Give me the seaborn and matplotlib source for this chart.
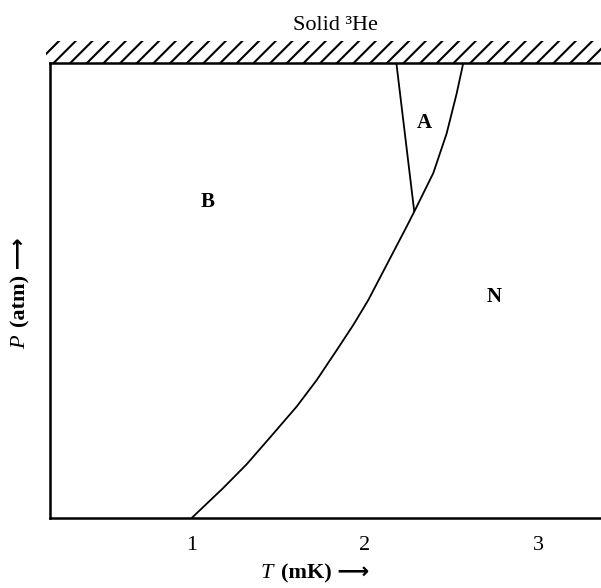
import matplotlib
matplotlib.use("Agg")
import matplotlib.pyplot as plt
import seaborn as sns
import pandas as pd
from matplotlib.patches import Rectangle

# ---- data ----
# normal / superfluid boundary (T in mK, P in relative units, top = solid line)
tc_T = [1.0, 1.182, 1.317, 1.452, 1.606, 1.721, 1.837, 1.932, 2.019,
        2.241, 2.289, 2.394, 2.471, 2.529, 2.567]
tc_P = [0.0, 0.066, 0.118, 0.177, 0.245, 0.303, 0.369, 0.424, 0.479,
        0.641, 0.677, 0.758, 0.845, 0.933, 1.0]
# A-B boundary
ab_T = [2.181, 2.284]
ab_P = [1.0, 0.674]
# phase labels
phase_names = ["B", "A", "N"]
phase_T = [1.094, 2.340, 2.744]
phase_P = [0.695, 0.869, 0.486]
xtick_vals = [1, 2, 3]
xtick_labels = ["1", "2", "3"]

sns.set_theme(style="white")
fam = ["Liberation Serif", "DejaVu Sans"]
plt.rcParams["font.family"] = fam
plt.rcParams["hatch.linewidth"] = 1.5
plt.rcParams["text.color"] = "black"
plt.rcParams["axes.labelcolor"] = "black"
plt.rcParams["xtick.color"] = "black"

fig = plt.figure(figsize=(6.01, 5.88), dpi=100)
ax = fig.add_axes([50 / 601, 1 - 518 / 588, 550 / 601, 455 / 588])

tc = pd.DataFrame({"T": tc_T, "P": tc_P})
ab = pd.DataFrame({"T": ab_T, "P": ab_P})
sns.lineplot(data=tc, x="T", y="P", sort=False, estimator=None, color="black", lw=1.3, ax=ax)
sns.lineplot(data=ab, x="T", y="P", sort=False, estimator=None, color="black", lw=1.3, ax=ax)

for name, t, p in zip(phase_names, phase_T, phase_P):
    ax.text(t, p, name, ha="center", va="center", fontsize=15, fontweight="bold",
            color="black")

ax.set_xlim(0.1824, 3.356)
ax.set_ylim(0, 1)
ax.set_xticks(xtick_vals)
ax.set_xticklabels(xtick_labels, fontsize=16)
ax.set_yticks([])
ax.tick_params(axis="x", direction="out", length=5, width=1.5, colors="black", pad=8)

for s in ["left", "bottom", "top"]:
    ax.spines[s].set_visible(True)
    ax.spines[s].set_color("black")
    ax.spines[s].set_linewidth(1.8)
ax.spines["right"].set_visible(False)

# hatched solid region above the top line
ax.add_patch(Rectangle((-0.007, 1.0), 1.01, 22 / 455, transform=ax.transAxes,
                       facecolor="none", edgecolor="black", linewidth=0,
                       hatch="//", clip_on=False))

ax.text(0.5185, 1.0835, "Solid ³He", transform=ax.transAxes,
        ha="center", va="center", fontsize=16, color="black")

# axis labels: italic symbol + bold unit with arrow
ax.set_xlabel("(mK) ⟶", fontsize=16, fontweight="bold", family=fam, ha="left")
ax.xaxis.set_label_coords(0.42, -0.099)
ax.annotate("T", xy=(0, 0.5), xycoords=ax.xaxis.label, xytext=(-6, 0),
            textcoords="offset points", ha="right", va="center",
            fontsize=16, fontstyle="italic", family=fam)

ax.set_ylabel("(atm) ⟶", fontsize=16, fontweight="bold", family=fam, ha="left")
ax.yaxis.set_label_coords(-0.035, 0.42)
ax.annotate("P", xy=(0.5, 0), xycoords=ax.yaxis.label, xytext=(0, -6),
            textcoords="offset points", ha="right", va="center",
            rotation=90, rotation_mode="anchor",
            fontsize=16, fontstyle="italic", family=fam)

fig.savefig("out.png", dpi=100)
